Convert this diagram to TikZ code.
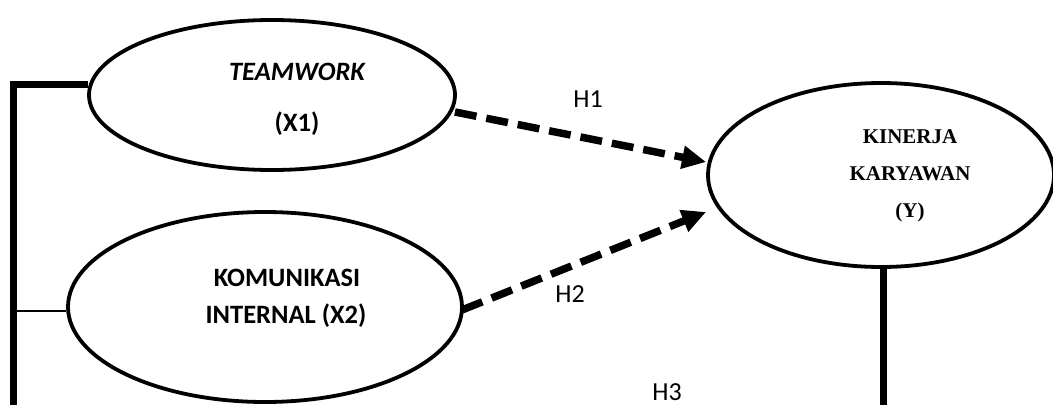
\documentclass[tikz,border=0pt]{standalone}
\usepackage{fontspec}
\setmainfont{Carlito}
\newfontfamily\timesf{Liberation Serif}
\usetikzlibrary{arrows.meta,calc,shapes.geometric}
\tikzset{
  varbox/.style={draw, ellipse, line width=3.8pt, inner sep=0pt},
  sanslbl/.style={anchor=base, inner sep=0pt, font=\fontsize{26.5}{30}\selectfont\bfseries},
  hlbl/.style={anchor=base, inner sep=0pt, font=\fontsize{26}{30}\selectfont},
  seriflbl/.style={anchor=base, inner sep=0pt, font=\fontsize{21}{24}\selectfont\timesf\bfseries},
  thickline/.style={line width=7pt},
  thinline/.style={line width=1.8pt},
  hyparrow/.style={line width=7.5pt, dash pattern=on 22pt off 10pt, -{Triangle[length=24pt,width=22pt]}}
}
\begin{document}
\begin{tikzpicture}[x=1pt,y=-1pt]
\useasboundingbox (0,0) rectangle (1053,405);
% ellipses
\node[varbox, minimum width=366pt, minimum height=150pt] (t) at (272,95) {};
\node[varbox, minimum width=394pt, minimum height=190pt] (kom) at (265,307) {};
\node[varbox, minimum width=346pt, minimum height=184pt] (k) at (881,175) {};
% texts
\node[sanslbl] (t1) at (297,80) {\itshape TEAMWORK};
\node[sanslbl] (t2) at (297,131) {(X1)};
\node[sanslbl] (k1) at (287,286) {KOMUNIKASI};
\node[sanslbl] (k2) at (286,323) {INTERNAL (X2)};
\node[seriflbl] (y1) at (910,143) {KINERJA};
\node[seriflbl] (y2) at (910,180) {KARYAWAN};
\node[seriflbl] (y3) at (910,217) {(Y)};
\node[hlbl] (h1) at (588,107) {H1};
\node[hlbl] (h2) at (570,302) {H2};
\node[hlbl] (h3) at (667,400) {H3};
% connectors
\coordinate (bl) at (13,405);
\coordinate (br) at (883,405);
\draw[thickline] ($(t.west)+(1,-11)$) -| (bl);
\draw[thinline] ($(kom.west)+(0,4)$) -- ($(kom.west -| bl)+(0,4)$);
\draw[thickline] (k.south -| br) -- (br);
\draw[hyparrow] ($(t.east)+(-2,17)$) -- ($(k.west)+(0,-13)$);
\draw[hyparrow] ($(kom.east)+(-2,3)$) -- ($(k.west)+(0,37)$);
\end{tikzpicture}
\end{document}
